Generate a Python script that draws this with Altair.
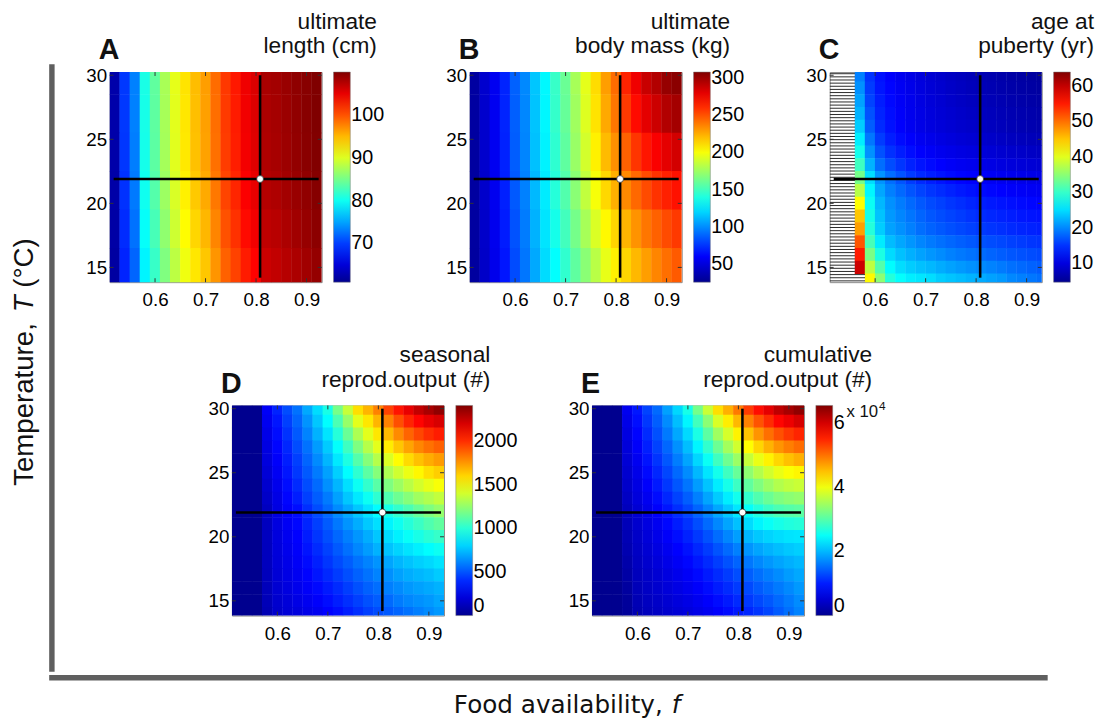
import altair as alt
import numpy as np
import pandas as pd

FONT = "Liberation Sans"
TITLE_FONT = "DejaVu Sans"
AXIS_GREY = "#5f5f5f"
JET_COLORS = ["#00008f", "#0000ff", "#00ffff", "#ffff00", "#ff0000", "#800000"]
JET_POS = [0.0, 0.125, 0.375, 0.625, 0.875, 1.0]

F_DOMAIN = [0.51, 0.93]
T_DOMAIN = [13.85, 30.25]
X_TICKS = [0.6, 0.7, 0.8, 0.9]
Y_TICKS = [15, 20, 25, 30]

F_CENTERS = [0.52, 0.54, 0.56, 0.58, 0.60, 0.62, 0.64, 0.66, 0.68, 0.70, 0.72,
             0.74, 0.76, 0.78, 0.80, 0.82, 0.84, 0.86, 0.88, 0.90, 0.92]
F_CENTERS_C = [0.57, 0.59, 0.61, 0.63, 0.65, 0.67, 0.69, 0.71, 0.73, 0.75,
               0.77, 0.79, 0.81, 0.83, 0.85, 0.87, 0.89, 0.91, 0.93]
T_BANDS = [30, 27, 24, 21, 18, 15]
T_ROWS = [30, 29, 28, 27, 26, 25, 24, 23, 22, 21, 20, 19, 18, 17, 16, 15, 14]

CROSS_F = 0.808
CROSS_T = 21.9
CROSS_T_RANGE = [14.2, 30.0]
CROSS_F_RANGE = [0.518, 0.924]

# A: ultimate length (cm), rows T = 30,27,...,15
LENGTH_CM = [
    [62.5, 69.8, 73.3, 80.6, 84.0, 87.5, 90.4, 92.9, 94.8, 96.3, 98.7, 101.2, 102.7, 104.6, 105.6, 108.0, 108.3, 108.8, 109.3, 109.6, 110.0],
    [62.5, 69.8, 73.3, 80.5, 83.9, 87.4, 90.3, 92.8, 94.7, 96.2, 98.6, 101.1, 102.6, 104.5, 105.5, 107.9, 108.2, 108.7, 109.2, 109.6, 110.0],
    [62.4, 69.7, 73.2, 80.4, 83.8, 87.3, 90.2, 92.7, 94.6, 96.1, 98.5, 101.0, 102.5, 104.4, 105.4, 107.8, 108.1, 108.6, 109.1, 109.5, 109.9],
    [62.3, 69.5, 73.0, 80.1, 83.4, 86.9, 89.8, 92.3, 94.2, 95.7, 98.1, 100.6, 102.1, 104.0, 105.0, 107.5, 107.8, 108.3, 108.8, 109.2, 109.7],
    [62.2, 69.2, 72.6, 79.6, 82.8, 86.3, 89.2, 91.7, 93.6, 95.1, 97.5, 100.0, 101.5, 103.4, 104.5, 107.0, 107.3, 107.9, 108.4, 108.9, 109.4],
    [62.0, 68.8, 72.0, 78.9, 82.0, 85.5, 88.4, 90.9, 92.8, 94.3, 96.7, 99.2, 100.7, 102.6, 103.8, 106.4, 106.8, 107.4, 107.9, 108.4, 109.0],
]
# B: ultimate body mass (kg), rows T = 30,27,...,15
MASS_KG = [
    [31.6, 45.7, 57.0, 71.0, 88.0, 99.0, 116.0, 130.0, 147.0, 161.0, 178.0, 195.0, 212.0, 229.0, 243.0, 263.0, 277.0, 288.0, 294.0, 302.0, 305.0],
    [31.6, 45.6, 57.0, 71.0, 87.5, 98.5, 115.5, 129.5, 146.0, 160.0, 176.0, 193.0, 210.0, 226.0, 240.0, 257.0, 270.0, 280.0, 287.0, 294.0, 298.0],
    [31.5, 45.4, 56.8, 70.5, 87.0, 98.0, 114.5, 128.5, 144.5, 158.0, 174.0, 190.0, 206.0, 221.0, 233.0, 246.0, 258.0, 267.0, 274.0, 280.0, 285.0],
    [31.4, 45.0, 56.3, 69.8, 85.8, 96.8, 112.5, 126.5, 142.0, 154.5, 170.0, 185.0, 200.0, 213.0, 224.0, 235.0, 244.0, 252.0, 259.0, 264.0, 268.0],
    [31.2, 44.6, 55.8, 68.6, 84.0, 95.4, 110.5, 124.5, 137.5, 150.0, 164.0, 178.0, 192.0, 204.0, 214.0, 223.0, 232.0, 240.0, 246.0, 252.0, 257.0],
    [31.0, 44.0, 55.0, 67.0, 82.0, 94.0, 108.0, 122.0, 132.0, 145.0, 158.0, 170.0, 183.0, 196.0, 206.0, 214.0, 222.0, 229.0, 236.0, 242.0, 248.0],
]
# C: age at puberty (yr), rows T = 30..14, columns F_CENTERS_C (None = no value)
PUBERTY_YR = [
    [19.5, 15.0, 13.0, 12.0, 11.2, 10.5, 9.8, 9.2, 8.7, 8.2, 7.8, 7.4, 7.1, 6.8, 6.5, 6.2, 6.0, 5.8, 5.6],
    [20.5, 15.5, 13.3, 12.3, 11.4, 10.7, 10.0, 9.4, 8.9, 8.4, 8.0, 7.6, 7.3, 7.0, 6.7, 6.4, 6.2, 6.0, 5.8],
    [21.5, 16.0, 13.7, 12.5, 11.6, 10.9, 10.2, 9.6, 9.1, 8.6, 8.2, 7.9, 7.6, 7.3, 7.0, 6.7, 6.5, 6.3, 6.1],
    [22.5, 16.8, 14.1, 12.8, 11.8, 11.0, 10.4, 9.8, 9.3, 8.9, 8.5, 8.2, 7.9, 7.6, 7.3, 7.0, 6.8, 6.6, 6.4],
    [24.0, 17.5, 14.5, 13.0, 12.0, 11.2, 10.5, 10.0, 9.6, 9.2, 8.8, 8.5, 8.2, 7.9, 7.6, 7.3, 7.1, 6.9, 6.7],
    [26.0, 19.0, 15.5, 13.8, 12.7, 11.9, 11.2, 10.7, 10.2, 9.8, 9.4, 9.1, 8.8, 8.5, 8.2, 7.9, 7.7, 7.5, 7.3],
    [28.0, 20.5, 16.8, 14.9, 13.7, 12.8, 12.0, 11.5, 11.0, 10.6, 10.2, 9.9, 9.6, 9.3, 9.0, 8.7, 8.5, 8.3, 8.1],
    [30.5, 22.5, 18.5, 16.5, 15.2, 14.0, 13.2, 12.6, 12.1, 11.6, 11.2, 10.9, 10.6, 10.3, 10.0, 9.7, 9.5, 9.3, 9.1],
    [33.7, 25.0, 20.7, 18.5, 17.0, 15.5, 14.5, 13.8, 13.2, 12.7, 12.3, 12.0, 11.7, 11.4, 11.1, 10.9, 10.7, 10.5, 10.3],
    [37.5, 26.5, 21.8, 19.5, 18.2, 17.0, 16.0, 15.2, 14.6, 14.0, 13.5, 13.1, 12.7, 12.4, 12.1, 11.8, 11.6, 11.4, 11.2],
    [41.7, 27.5, 22.8, 20.5, 19.3, 18.2, 17.2, 16.4, 15.8, 15.2, 14.7, 14.2, 13.8, 13.5, 13.2, 12.9, 12.6, 12.4, 12.2],
    [45.0, 28.2, 23.4, 21.0, 19.9, 18.9, 17.9, 17.1, 16.5, 16.0, 15.5, 15.0, 14.6, 14.3, 14.0, 13.7, 13.4, 13.2, 13.0],
    [47.3, 29.0, 24.0, 21.5, 20.5, 19.5, 18.5, 17.8, 17.2, 16.7, 16.2, 15.8, 15.4, 15.1, 14.8, 14.5, 14.2, 14.0, 13.8],
    [51.5, 31.0, 25.8, 23.0, 21.8, 20.8, 19.9, 19.2, 18.6, 18.1, 17.6, 17.2, 16.8, 16.5, 16.2, 15.8, 15.5, 15.2, 15.0],
    [55.0, 34.0, 28.5, 24.8, 23.3, 22.3, 21.5, 20.8, 20.2, 19.6, 19.1, 18.7, 18.3, 17.9, 17.5, 17.1, 16.8, 16.5, 16.2],
    [59.5, 38.0, 31.8, 26.8, 25.0, 24.0, 23.3, 22.8, 22.1, 21.5, 21.0, 20.5, 20.1, 19.7, 19.2, 18.6, 18.2, 17.8, 17.4],
    [None, 42.0, 35.0, 29.0, 27.0, 26.0, 25.5, 25.0, 24.0, 23.5, 23.0, 22.5, 22.0, 21.5, 21.0, 20.0, 19.5, 19.0, 18.5],
]
# D: seasonal reproductive output (#), rows T = 30..14
SEASONAL_OUT = [
    [0, 0, 0, 280, 380, 480, 570, 700, 820, 960, 1180, 1370, 1580, 1680, 1800, 1950, 2060, 2160, 2250, 2310, 2370],
    [0, 0, 0, 260, 350, 450, 540, 650, 770, 900, 1080, 1260, 1440, 1560, 1680, 1800, 1920, 2020, 2100, 2160, 2200],
    [0, 0, 0, 240, 330, 420, 510, 610, 720, 840, 990, 1150, 1310, 1440, 1560, 1670, 1780, 1870, 1940, 2000, 2040],
    [0, 0, 0, 220, 310, 390, 480, 570, 670, 780, 910, 1050, 1200, 1330, 1440, 1550, 1640, 1720, 1790, 1840, 1880],
    [0, 0, 0, 210, 290, 370, 450, 540, 630, 730, 850, 970, 1100, 1220, 1330, 1420, 1510, 1590, 1650, 1700, 1740],
    [0, 0, 0, 190, 270, 350, 430, 510, 590, 680, 790, 900, 1010, 1120, 1220, 1310, 1390, 1460, 1520, 1580, 1620],
    [0, 0, 0, 170, 250, 330, 400, 480, 550, 640, 730, 830, 930, 1020, 1110, 1200, 1270, 1340, 1400, 1450, 1490],
    [0, 0, 0, 150, 230, 310, 370, 450, 520, 590, 680, 770, 850, 930, 1010, 1090, 1160, 1220, 1280, 1320, 1360],
    [0, 0, 0, 130, 220, 290, 330, 410, 480, 550, 630, 700, 770, 840, 900, 960, 1020, 1080, 1140, 1200, 1250],
    [0, 0, 0, 130, 215, 275, 315, 385, 450, 515, 585, 650, 710, 775, 830, 880, 935, 990, 1040, 1090, 1130],
    [0, 0, 0, 128, 210, 260, 300, 365, 425, 485, 545, 600, 655, 710, 770, 820, 870, 920, 960, 1000, 1030],
    [0, 0, 0, 125, 205, 250, 290, 345, 400, 455, 510, 565, 620, 670, 720, 760, 800, 840, 870, 900, 930],
    [0, 0, 0, 125, 200, 240, 280, 325, 375, 425, 475, 520, 570, 610, 650, 690, 730, 760, 790, 810, 840],
    [0, 0, 0, 120, 190, 230, 265, 305, 350, 395, 440, 485, 530, 570, 610, 640, 680, 710, 730, 750, 780],
    [0, 0, 0, 115, 180, 215, 250, 285, 320, 360, 400, 445, 490, 530, 560, 600, 630, 660, 680, 700, 720],
    [0, 0, 0, 110, 170, 200, 230, 260, 290, 330, 370, 410, 450, 490, 520, 550, 590, 620, 640, 660, 690],
    [0, 0, 0, 100, 160, 190, 210, 240, 260, 300, 330, 370, 410, 450, 480, 510, 540, 570, 600, 630, 660],
]
# E: cumulative reproductive output (x 10^4), rows T = 30..14
CUMULATIVE_OUT_E4 = [
    [0, 0, 0, 0.70, 0.96, 1.25, 1.50, 1.85, 2.20, 2.60, 3.20, 3.75, 4.30, 4.60, 4.95, 5.35, 5.65, 5.90, 6.15, 6.30, 6.45],
    [0, 0, 0, 0.65, 0.90, 1.17, 1.42, 1.72, 2.04, 2.40, 2.88, 3.35, 3.85, 4.20, 4.55, 4.90, 5.20, 5.45, 5.70, 5.85, 6.00],
    [0, 0, 0, 0.60, 0.84, 1.09, 1.33, 1.60, 1.90, 2.22, 2.62, 3.05, 3.48, 3.83, 4.17, 4.48, 4.78, 5.02, 5.22, 5.38, 5.50],
    [0, 0, 0, 0.55, 0.78, 1.01, 1.24, 1.48, 1.75, 2.04, 2.40, 2.77, 3.15, 3.50, 3.80, 4.10, 4.36, 4.58, 4.78, 4.92, 5.04],
    [0, 0, 0, 0.51, 0.72, 0.94, 1.15, 1.38, 1.62, 1.88, 2.20, 2.52, 2.86, 3.17, 3.45, 3.72, 3.96, 4.17, 4.35, 4.49, 4.60],
    [0, 0, 0, 0.47, 0.66, 0.87, 1.06, 1.27, 1.49, 1.72, 2.00, 2.29, 2.58, 2.86, 3.12, 3.37, 3.60, 3.80, 3.96, 4.07, 4.15],
    [0, 0, 0, 0.43, 0.61, 0.80, 0.98, 1.17, 1.37, 1.57, 1.82, 2.08, 2.34, 2.60, 2.84, 3.07, 3.27, 3.45, 3.60, 3.69, 3.75],
    [0, 0, 0, 0.38, 0.56, 0.72, 0.89, 1.06, 1.24, 1.42, 1.64, 1.88, 2.12, 2.35, 2.57, 2.78, 2.97, 3.14, 3.27, 3.35, 3.40],
    [0, 0, 0, 0.33, 0.50, 0.65, 0.80, 0.95, 1.11, 1.27, 1.46, 1.67, 1.89, 2.10, 2.30, 2.49, 2.66, 2.82, 2.94, 3.00, 3.05],
    [0, 0, 0, 0.30, 0.46, 0.59, 0.72, 0.86, 1.00, 1.14, 1.31, 1.50, 1.69, 1.88, 2.06, 2.23, 2.39, 2.51, 2.60, 2.66, 2.70],
    [0, 0, 0, 0.27, 0.42, 0.54, 0.66, 0.78, 0.90, 1.03, 1.18, 1.34, 1.51, 1.68, 1.84, 1.99, 2.10, 2.18, 2.24, 2.28, 2.30],
    [0, 0, 0, 0.24, 0.39, 0.50, 0.60, 0.71, 0.82, 0.93, 1.06, 1.20, 1.35, 1.50, 1.64, 1.77, 1.88, 1.97, 2.04, 2.10, 2.15],
    [0, 0, 0, 0.20, 0.36, 0.46, 0.55, 0.65, 0.75, 0.85, 0.96, 1.08, 1.21, 1.34, 1.46, 1.58, 1.69, 1.79, 1.87, 1.94, 2.00],
    [0, 0, 0, 0.16, 0.33, 0.42, 0.50, 0.59, 0.68, 0.77, 0.87, 0.98, 1.09, 1.20, 1.31, 1.42, 1.53, 1.63, 1.72, 1.82, 1.90],
    [0, 0, 0, 0.12, 0.30, 0.39, 0.46, 0.54, 0.62, 0.70, 0.79, 0.89, 0.99, 1.09, 1.19, 1.29, 1.40, 1.50, 1.60, 1.70, 1.80],
    [0, 0, 0, 0.08, 0.27, 0.36, 0.42, 0.49, 0.56, 0.63, 0.71, 0.80, 0.89, 0.98, 1.08, 1.18, 1.28, 1.38, 1.49, 1.60, 1.72],
    [0, 0, 0, 0.07, 0.25, 0.33, 0.39, 0.45, 0.51, 0.57, 0.64, 0.72, 0.80, 0.88, 0.97, 1.06, 1.16, 1.27, 1.40, 1.53, 1.66],
]

COLORBAR_DOMAINS = {"A": [61, 110], "B": [26, 308], "C": [4.7, 63.9], "D": [0, 2407], "E": [0, 6.55]}
COLORBAR_TICKS = {"A": [70, 80, 90, 100], "B": [50, 100, 150, 200, 250, 300],
                  "C": [10, 20, 30, 40, 50, 60], "D": [0, 500, 1000, 1500, 2000], "E": [0, 2, 4, 6]}
PANEL_TITLES = {"A": ["ultimate", "length (cm)"], "B": ["ultimate", "body mass (kg)"],
                "C": ["age at", "puberty (yr)"], "D": ["seasonal", "reprod.output (#)"],
                "E": ["cumulative", "reprod.output (#)"]}
Y_TITLE_PARTS = ["Temperature,", "T", "(°C)"]
X_TITLE_PARTS = ["Food availability,", "f"]
E_MULTIPLIER = ["x 10", "4"]

PW, PH = 215, 213
BOX_LEFT, BOX_TOP, BOX_BOTTOM = 50, 63, 250
XS = alt.Scale(domain=F_DOMAIN, nice=False, zero=False)
YS = alt.Scale(domain=T_DOMAIN, nice=False, zero=False)
XAXIS = alt.Axis(values=X_TICKS, format=".1f", labelFontSize=19, labelFont=FONT, labelColor="black",
                 ticks=False, tickSize=0, domain=False, grid=False, labelPadding=9, title=None)
YAXIS = alt.Axis(values=Y_TICKS, format="d", labelFontSize=19, labelFont=FONT, labelColor="black",
                 ticks=False, tickSize=0, domain=False, grid=False, labelPadding=3, title=None)
ONE = pd.DataFrame({"k": [0]})
NOFRAME = alt.ViewBackground(strokeOpacity=0)


def cells(f_centers, t_centers, dfw, dth, table):
    # cells overlap by a hair so that no seams show between neighbours
    ef, et = 0.0004, 0.02
    recs = []
    for t, row in zip(t_centers, table):
        for f, v in zip(f_centers, row):
            if v is None:
                continue
            recs.append({"f0": f - dfw / 2 - ef, "f1": f + dfw / 2 + ef,
                         "t0": t - dth / 2 - et, "t1": t + dth / 2 + et, "v": v})
    return pd.DataFrame(recs)


def text_layer(s, x, y, size, align="left", weight="normal", font=FONT, style="normal", angle=0, baseline="alphabetic"):
    return alt.Chart(pd.DataFrame({"s": [s]})).mark_text(
        font=font, fontSize=size, fontWeight=weight, fontStyle=style, align=align,
        baseline=baseline, color="#111", angle=angle
    ).encode(x=alt.value(x), y=alt.value(y), text="s:N")


def panel(key, data, title_x, box_right, hatch=False, extra=None):
    lo, hi = COLORBAR_DOMAINS[key]
    stops = [lo + (hi - lo) * p for p in JET_POS]
    cscale = alt.Scale(domain=stops, range=JET_COLORS, interpolate="rgb")
    legend = alt.Legend(type="gradient", orient="right", offset=12, gradientLength=PH, gradientThickness=17,
                        values=COLORBAR_TICKS[key], format="d", labelFontSize=20, labelFont=FONT,
                        labelColor="black", labelOffset=1, labelOverlap=False, title=None, padding=0,
                        gradientStrokeColor="#777", gradientStrokeWidth=0.5, direction="vertical")
    heat = alt.Chart(data).mark_rect(clip=True).encode(
        x=alt.X("f0:Q", scale=XS, axis=XAXIS),
        x2="f1:Q",
        y=alt.Y("t0:Q", scale=YS, axis=YAXIS),
        y2="t1:Q",
        color=alt.Color("v:Q", scale=cscale, legend=legend),
    )
    layers = [heat]
    if hatch:
        ht = np.arange(13.95, 30.25, 0.245)
        hdf = pd.DataFrame({"t": ht, "fa": F_DOMAIN[0], "fb": np.where(ht < 14.5, 0.58, 0.56)})
        layers.append(alt.Chart(hdf).mark_rule(color="#2a2a2a", strokeWidth=1, clip=True).encode(
            x=alt.X("fa:Q", scale=XS, axis=XAXIS), x2="fb:Q", y=alt.Y("t:Q", scale=YS, axis=YAXIS)))
    vr = pd.DataFrame({"f": [CROSS_F], "ta": [CROSS_T_RANGE[0]], "tb": [CROSS_T_RANGE[1]]})
    hr = pd.DataFrame({"t": [CROSS_T], "fa": [CROSS_F_RANGE[0]], "fb": [CROSS_F_RANGE[1]]})
    dot = pd.DataFrame({"f": [CROSS_F], "t": [CROSS_T]})
    layers.append(alt.Chart(vr).mark_rule(color="black", strokeWidth=2.6).encode(
        x=alt.X("f:Q", scale=XS, axis=XAXIS), y=alt.Y("ta:Q", scale=YS, axis=YAXIS), y2="tb:Q"))
    layers.append(alt.Chart(hr).mark_rule(color="black", strokeWidth=2.6).encode(
        x=alt.X("fa:Q", scale=XS, axis=XAXIS), x2="fb:Q", y=alt.Y("t:Q", scale=YS, axis=YAXIS)))
    layers.append(alt.Chart(dot).mark_circle(fill="white", stroke="#222", strokeWidth=0.7, size=48, opacity=1).encode(
        x=alt.X("f:Q", scale=XS, axis=XAXIS), y=alt.Y("t:Q", scale=YS, axis=YAXIS)))
    xt = pd.DataFrame({"f": X_TICKS})
    yt = pd.DataFrame({"t": Y_TICKS})
    for ya, yb in [(PH, PH - 4), (0, 4)]:
        layers.append(alt.Chart(xt).mark_rule(color="#333", strokeWidth=1).encode(
            x=alt.X("f:Q", scale=XS, axis=XAXIS), y=alt.value(ya), y2=alt.value(yb)))
    for xa, xb in [(0, 4), (PW, PW - 4)]:
        layers.append(alt.Chart(yt).mark_rule(color="#333", strokeWidth=1).encode(
            y=alt.Y("t:Q", scale=YS, axis=YAXIS), x=alt.value(xa), x2=alt.value(xb)))
    layers.append(text_layer(key, -11, -13, 29, weight="bold"))
    t1, t2 = PANEL_TITLES[key]
    layers.append(text_layer(t1, title_x, -44, 23, align="right"))
    layers.append(text_layer(t2, title_x, -19, 23, align="right"))
    if extra:
        layers.extend(extra)
    # invisible frame fixing the panel's outer extent for the concat layout
    layers.append(alt.Chart(ONE).mark_rule(opacity=0).encode(
        x=alt.value(-BOX_LEFT), x2=alt.value(PW + box_right), y=alt.value(-BOX_TOP), y2=alt.value(BOX_BOTTOM)))
    return alt.layer(*layers).properties(width=PW, height=PH)


pA = panel("A", cells(F_CENTERS, T_BANDS, 0.02, 3, LENGTH_CM), 271, 93)
pB = panel("B", cells(F_CENTERS, T_BANDS, 0.02, 3, MASS_KG), 264, 93)
pC = panel("C", cells(F_CENTERS_C, T_ROWS, 0.02, 1, PUBERTY_YR), 268, 55, hatch=True)
pD = panel("D", cells(F_CENTERS, T_ROWS, 0.02, 1, SEASONAL_OUT), 262, 93)
pE = panel("E", cells(F_CENTERS, T_ROWS, 0.02, 1, CUMULATIVE_OUT_E4), 284, 93,
           extra=[text_layer(E_MULTIPLIER[0], 258, 12, 17), text_layer(E_MULTIPLIER[1], 291, 5, 12)])

spacer = alt.Chart(ONE).mark_point(opacity=0).encode(x=alt.value(0), y=alt.value(0)).properties(
    width=67.4, height=10, view=NOFRAME)

# coordinates relative to the top-left corner of panel A's plot
deco_left = alt.layer(
    alt.Chart(ONE).mark_rule(color=AXIS_GREY, strokeWidth=5.5, strokeCap="butt").encode(
        x=alt.value(44.5), y=alt.value(-8), y2=alt.value(608)),
    text_layer(Y_TITLE_PARTS[0], 17, 419.5, 28, angle=270, baseline="middle"),
    text_layer(Y_TITLE_PARTS[1], 17, 243.6, 28, angle=270, baseline="middle", style="italic"),
    text_layer(Y_TITLE_PARTS[2], 17, 218.7, 28, angle=270, baseline="middle"),
).properties(width=51.3, height=608, view=NOFRAME)

deco_bottom = alt.layer(
    alt.Chart(ONE).mark_rule(color=AXIS_GREY, strokeWidth=5.5, strokeCap="butt").encode(
        x=alt.value(41.75), x2=alt.value(1054), y=alt.value(3)),
    text_layer(X_TITLE_PARTS[0], 452, 38.7, 25, font=TITLE_FONT),
    text_layer(X_TITLE_PARTS[1], 673, 38.7, 25, font=TITLE_FONT, style="italic"),
).properties(width=1060, height=45, view=NOFRAME)

IND = dict(color="independent")
row1 = alt.hconcat(pA, pB, pC, spacing=5).resolve_scale(**IND)
row2 = alt.hconcat(spacer, pD, pE, spacing=5).resolve_scale(**IND)
right_block = alt.vconcat(row1, row2, spacing=23).resolve_scale(**IND)
upper = alt.hconcat(deco_left, right_block, spacing=0).resolve_scale(**IND)

chart = alt.vconcat(upper, deco_bottom, spacing=0).resolve_scale(**IND).properties(
    padding={"left": 0, "top": -4, "right": 0, "bottom": 0}, background="white"
).configure_view(stroke="#8a8a8a", strokeWidth=1)

chart.save("out.html", embed_options={"renderer": "svg", "actions": False})
